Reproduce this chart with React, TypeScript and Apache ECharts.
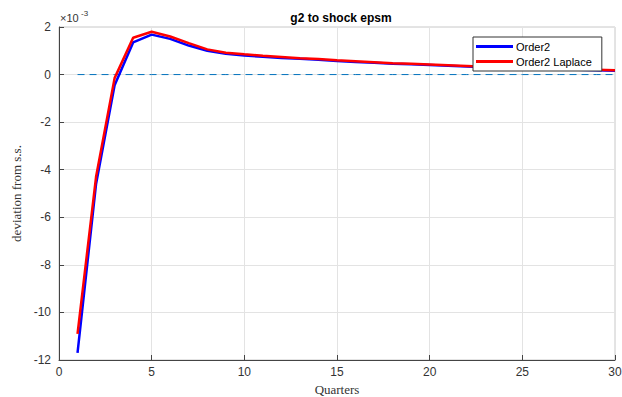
import React, { useEffect, useRef } from "react";
import * as echarts from "echarts";

const quarters = Array.from({ length: 30 }, (_, i) => i + 1);
const order2 = [-11.7, -4.6, -0.45, 1.35, 1.68, 1.5, 1.22, 1.0, 0.88, 0.8, 0.75, 0.7, 0.66, 0.62, 0.57, 0.53, 0.5, 0.46, 0.43, 0.4, 0.37, 0.34, 0.31, 0.28, 0.26, 0.24, 0.22, 0.2, 0.18, 0.16];
const order2Laplace = [-10.9, -4.3, -0.15, 1.55, 1.8, 1.6, 1.32, 1.06, 0.92, 0.85, 0.79, 0.74, 0.69, 0.65, 0.6, 0.56, 0.52, 0.48, 0.45, 0.42, 0.39, 0.36, 0.33, 0.3, 0.28, 0.26, 0.24, 0.22, 0.2, 0.18];
const steadyState = quarters.map(() => 0);
const xTicks = [0, 5, 10, 15, 20, 25, 30];
const yTicks = [-12, -10, -8, -6, -4, -2, 0, 2];

export default function App() {
  const ref = useRef<HTMLDivElement>(null);
  useEffect(() => {
    if (!ref.current) return;
    const chart = echarts.init(ref.current, undefined, { renderer: "svg" });
    const sans = "Liberation Sans";
    const serif = "Liberation Serif";
    chart.setOption({
      animation: false,
      backgroundColor: "#fff",
      title: {
        text: "g2 to shock epsm",
        left: 336,
        textAlign: "center",
        top: 7,
        textStyle: { fontFamily: sans, fontSize: 12, fontWeight: "bold", color: "#000" },
      },
      grid: {
        left: 59,
        right: 7,
        top: 27,
        bottom: 37,
        outerBoundsMode: "none",
        containLabel: false,
        show: true,
        borderColor: "#c8c8c8",
        borderWidth: 1,
      },
      legend: {
        left: 473,
        top: 37,
        orient: "vertical",
        icon: "rect",
        itemWidth: 37,
        itemHeight: 3,
        itemGap: 2,
        padding: [3, 10, 3, 3],
        borderColor: "#333",
        borderWidth: 1,
        borderRadius: 0,
        backgroundColor: "#fff",
        data: ["Order2", "Order2 Laplace"],
        textStyle: { fontFamily: sans, fontSize: 11, color: "#000", padding: [0, 0, 0, -2], lineHeight: 13 },
      },
      xAxis: {
        type: "value",
        min: 0,
        max: 30,
        interval: 5,
        axisLine: { show: true, onZero: false, lineStyle: { color: "#444", width: 1 } },
        axisTick: { show: true, inside: true, length: 5, lineStyle: { color: "#444" } },
        axisLabel: { fontFamily: sans, fontSize: 12, color: "#333", margin: 6, formatter: (v: number) => (xTicks.includes(v) ? String(v) : "") },
        splitLine: { show: true, lineStyle: { color: "#e3e3e3" } },
        name: "Quarters",
        nameLocation: "middle",
        nameGap: 22,
        nameTextStyle: { fontFamily: serif, fontSize: 13, color: "#333" },
      },
      yAxis: {
        type: "value",
        min: -12,
        max: 2,
        interval: 2,
        axisLine: { show: true, onZero: false, lineStyle: { color: "#444", width: 1 } },
        axisTick: { show: true, inside: true, length: 5, lineStyle: { color: "#444" } },
        axisLabel: { fontFamily: sans, fontSize: 12, color: "#333", margin: 8, formatter: (v: number) => (yTicks.includes(v) ? String(v) : "") },
        splitLine: { show: true, lineStyle: { color: "#e3e3e3" } },
        name: "deviation from s.s.",
        nameLocation: "middle",
        nameGap: 33,
        nameTextStyle: { fontFamily: serif, fontSize: 13, color: "#333" },
      },
      graphic: [
        {
          type: "text",
          left: 60,
          top: 12,
          style: { text: "×10", fontFamily: sans, fontSize: 11, fill: "#333" },
        },
        {
          type: "text",
          left: 81,
          top: 9,
          style: { text: "-3", fontFamily: sans, fontSize: 8, fill: "#333" },
        },
      ],
      series: [
        {
          name: "ss",
          type: "line",
          data: quarters.map((q, i) => [q, steadyState[i]]),
          symbol: "none",
          lineStyle: { color: "#0072BD", width: 1, type: [7, 5] },
          silent: true,
          z: 1,
        },
        {
          name: "Order2",
          type: "line",
          data: quarters.map((q, i) => [q, order2[i]]),
          symbol: "none",
          color: "#0000ff",
          lineStyle: { color: "#0000ff", width: 2.5 },
          z: 2,
        },
        {
          name: "Order2 Laplace",
          type: "line",
          data: quarters.map((q, i) => [q, order2Laplace[i]]),
          symbol: "none",
          color: "#ff0000",
          lineStyle: { color: "#ff0000", width: 2.5 },
          z: 3,
        },
      ],
    });
    return () => chart.dispose();
  }, []);
  return <div ref={ref} style={{ width: 622, height: 397, position: "absolute", left: 0, top: 0 }} />;
}
